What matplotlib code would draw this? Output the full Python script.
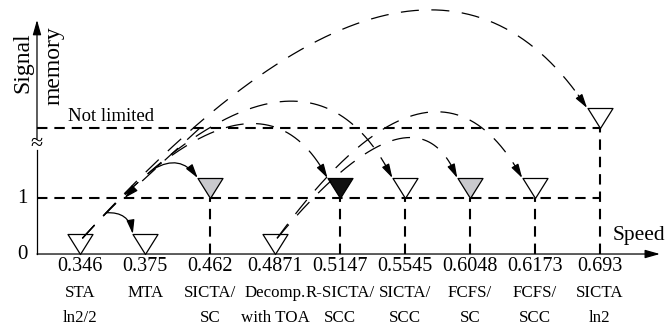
import numpy as np
import matplotlib
matplotlib.use("Agg")
import matplotlib.pyplot as plt
from matplotlib.path import Path

plt.rcParams['font.family'] = ['Liberation Serif', 'DejaVu Serif']
plt.rcParams['lines.scale_dashes'] = False

# data
speeds = [0.346, 0.375, 0.462, 0.4871, 0.5147, 0.5545, 0.6048, 0.6173, 0.693]
names_top = ["STA", "MTA", "SICTA/", "Decomp.", "R-SICTA/", "SICTA/", "FCFS/", "FCFS/", "SICTA"]
names_bot = ["ln2/2", "", "SC", "with TOA", "SCC", "SCC", "SC", "SCC", "ln2"]
NOT_LIMITED = 2.25          # where "not limited" sits on the broken axis
memory = [0, 0, 1, 0, 1, 1, 1, 1, NOT_LIMITED]
fills = ["white", "white", "#c9c9cd", "white", "#111111", "white", "#c9c9cd", "white", "white"]
# dashed arcs: (from, to, peak x, peak height)
arcs = [(0, 8, 5.39, 4.36), (0, 4, 2.65, 2.33), (0, 5, 3.25, 2.73),
        (3, 6, 5.08, 2.08), (3, 7, 5.49, 2.54)]
# short solid curved arrows: (arc it leaves, position on arc, to)
branches = [(1, 0.07, 1), (1, 0.22, 2)]

fig = plt.figure(figsize=(6.7, 3.3), dpi=100)
ax = fig.add_axes([0, 0, 1, 1])
ax.set_xlim(-1.239, 9.085)
ax.set_ylim(-1.357, 4.536)
ax.axis('off')

x = np.arange(len(speeds))
sx = ax.transData.transform((1, 0))[0] - ax.transData.transform((0, 0))[0]
sy = ax.transData.transform((0, 1))[1] - ax.transData.transform((0, 0))[1]
TRI_W, TRI_H = 25, 20   # pixels
hw = TRI_W / 2 / sx
th = TRI_H / sy
yax = -0.669

head = '-|>,head_length=0.6,head_width=0.17'

# axes
ax.annotate('', xy=(8.93, 0), xytext=(yax, 0),
            arrowprops=dict(arrowstyle=head, color='k', lw=0.9, mutation_scale=15,
                            shrinkA=0, shrinkB=0))
ax.plot([yax, yax], [0, 1.85], color='k', lw=0.9)
ax.annotate('', xy=(yax, 4.18), xytext=(yax, 2.05),
            arrowprops=dict(arrowstyle=head, color='k', lw=0.9, mutation_scale=15,
                            shrinkA=0, shrinkB=0))
ax.text(yax, 1.95, '≈', fontsize=16, ha='center', va='center')

# level lines
thick = dict(color='k', lw=1.5, dashes=(7.5, 5))
ax.plot([yax, x[-1]], [1, 1], **thick)
ax.plot([yax, x[-1]], [NOT_LIMITED, NOT_LIMITED], **thick)
for i, m in zip(x, memory):
    if m > 0:
        ax.plot([i, i], [0, m], **thick)

# triangles
tri = Path([(-0.625, 1), (0.625, 1), (0, 0), (-0.625, 1)],
           [Path.MOVETO, Path.LINETO, Path.LINETO, Path.CLOSEPOLY])
ms = TRI_H * 0.72 * 2
for i, m, f in zip(x, memory, fills):
    ax.plot(i, m, marker=tri, ms=ms, mfc=f, mec='k', mew=0.9, zorder=3)


def ctrl(p0, p2, xp, h):
    cy = h + np.sqrt((h - p0[1]) * (h - p2[1]))
    t = (cy - p0[1]) / (2 * cy - p0[1] - p2[1])
    cx = (xp - (1 - t) ** 2 * p0[0] - t ** 2 * p2[0]) / (2 * t * (1 - t))
    return np.array([cx, cy])


def bez(p0, c, p2, t):
    t = np.asarray(t)[..., None]
    return (1 - t) ** 2 * p0 + 2 * t * (1 - t) * c + t ** 2 * p2


curves = []
for a, b, xp, h in arcs:
    p0 = np.array([x[a] + 0.03, memory[a] + 0.28])
    p2 = np.array([x[b] - hw, memory[b] + th])
    c = ctrl(p0, p2, xp, h)
    curves.append((p0, c, p2))
    d = 2 * (p2 - c) * [sx, sy]
    eps = 16 / np.hypot(*d)
    pts = bez(p0, c, p2, np.linspace(0, 1 - eps, 200))
    ax.plot(pts[:, 0], pts[:, 1], color='k', lw=0.9, dashes=(13, 9), zorder=4)
    ax.annotate('', xy=p2, xytext=bez(p0, c, p2, 1 - eps),
                arrowprops=dict(arrowstyle=head, color='k', lw=0.9, mutation_scale=14,
                                shrinkA=0, shrinkB=0), zorder=5)

# the back arrow beside the STA arcs
ax.plot([1.85, 0.78], [2.26, 1.12], color='k', lw=0.9, dashes=(13, 9), zorder=4)
ax.annotate('', xy=(0.68, 1.0), xytext=(0.82, 1.16),
            arrowprops=dict(arrowstyle=head, color='k', lw=0.9, mutation_scale=14,
                            shrinkA=0, shrinkB=0), zorder=5)

for k, t, b in branches:
    p0, c, p2 = curves[k]
    start = bez(p0, c, p2, t)
    ax.annotate('', xy=(x[b] - hw, memory[b] + th), xytext=start,
                arrowprops=dict(arrowstyle=head, color='k', lw=0.9, mutation_scale=14,
                                shrinkA=0, shrinkB=0, connectionstyle='arc3,rad=-0.45'),
                zorder=5)

# labels
for i, v, n1, n2 in zip(x, speeds, names_top, names_bot):
    ax.text(i, -0.30, f"{v}", fontsize=14.5, ha='center', va='baseline')
    ax.text(i, -0.77, n1, fontsize=12.2, ha='center', va='baseline')
    ax.text(i, -1.21, n2, fontsize=12.2, ha='center', va='baseline')

ax.text(-0.9, 0, '0', fontsize=15, ha='center', va='center')
ax.text(-0.9, 1, '1', fontsize=15, ha='center', va='center')
ax.text(-0.884, 3.41, 'Signal', fontsize=17, rotation=90, ha='center', va='center')
ax.text(-0.41, 3.36, 'memory', fontsize=17, rotation=90, ha='center', va='center')
ax.text(-0.19, 2.38, 'Not limited', fontsize=13.5, ha='left', va='baseline')
ax.text(8.2, 0.25, 'Speed', fontsize=15.5, ha='left', va='baseline')

fig.savefig('out.png', dpi=100)
